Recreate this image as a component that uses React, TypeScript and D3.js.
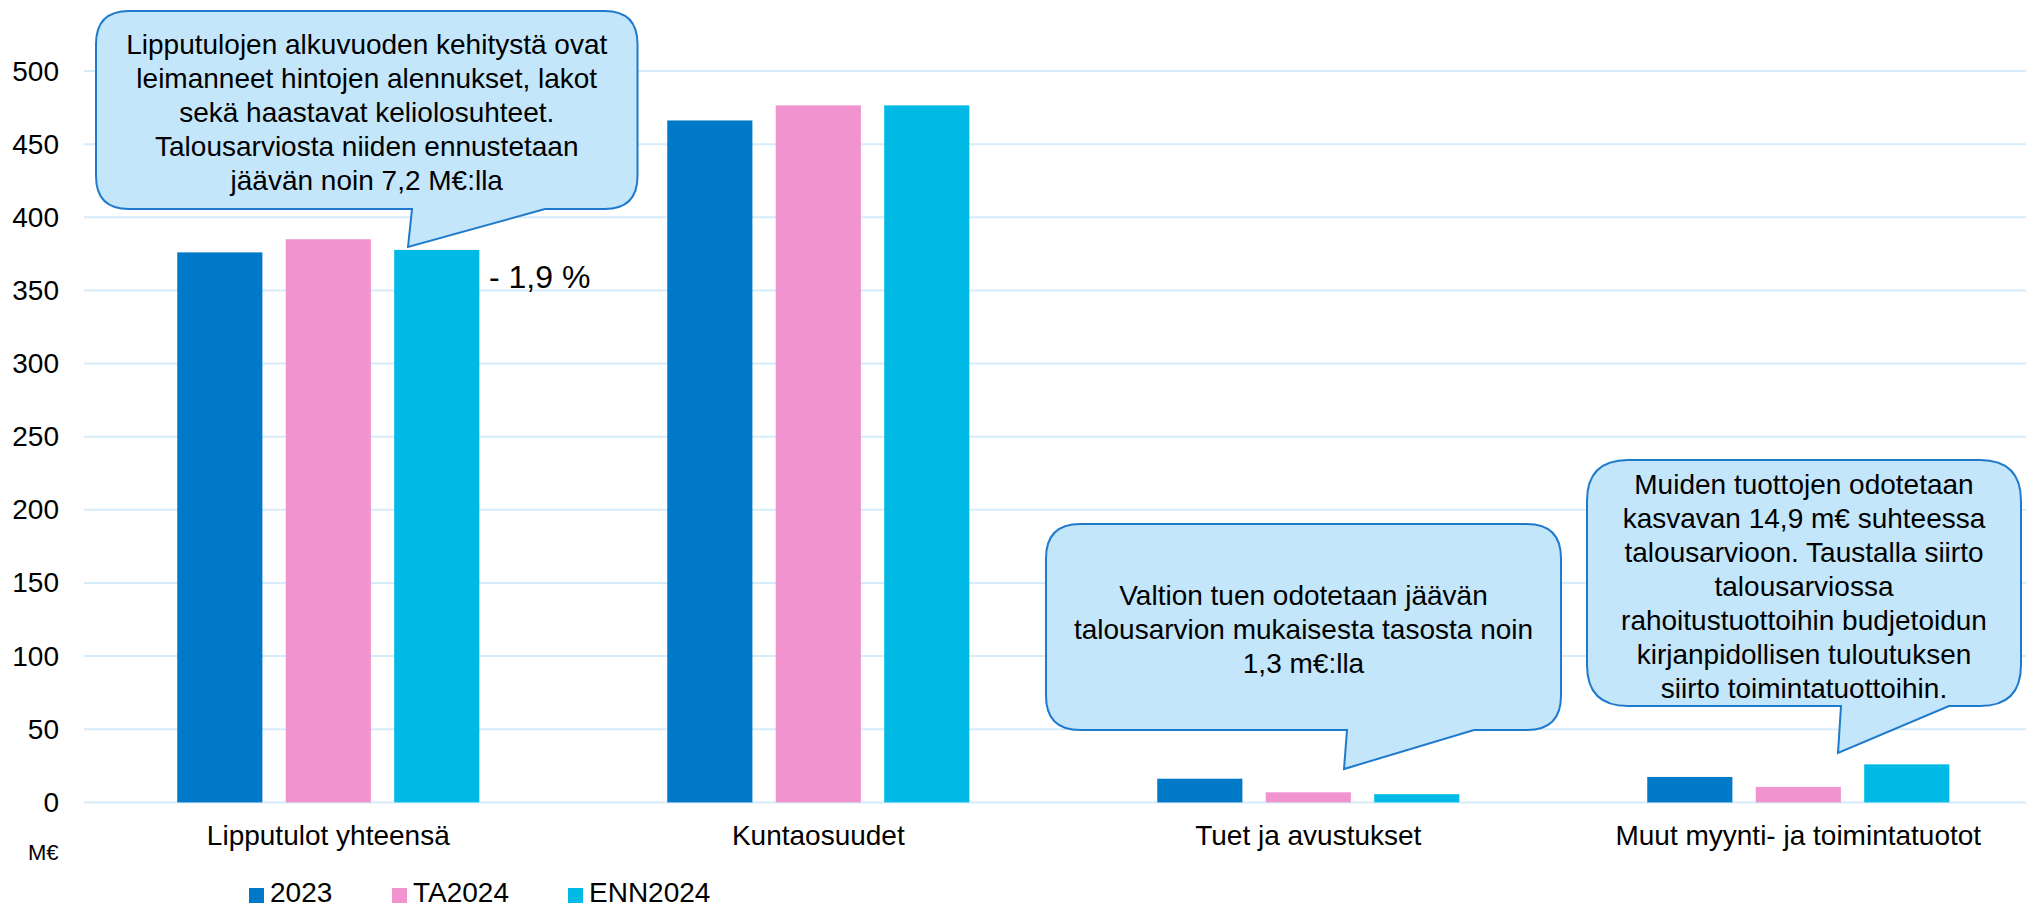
import React from "react";
import * as d3 from "d3";

const categories = ["Lipputulot yhteensä", "Kuntaosuudet", "Tuet ja avustukset", "Muut myynti- ja toimintatuotot"];
const seriesNames = ["2023", "TA2024", "ENN2024"];
const values2023 = [376, 466.2, 16.2, 17.4];
const valuesTA2024 = [385, 476.5, 6.9, 10.6];
const valuesENN2024 = [377.7, 476.5, 5.6, 26.0];
const yTicks = [0, 50, 100, 150, 200, 250, 300, 350, 400, 450, 500];
const colors = ["#0079C8", "#F093CE", "#00B9E5"];
const callout1Lines = [
  "Lipputulojen alkuvuoden kehitystä ovat",
  "leimanneet hintojen alennukset, lakot",
  "sekä haastavat keliolosuhteet.",
  "Talousarviosta niiden ennustetaan",
  "jäävän noin 7,2 M€:lla",
];
const callout2Lines = [
  "Valtion tuen odotetaan jäävän",
  "talousarvion mukaisesta tasosta noin",
  "1,3 m€:lla",
];
const callout3Lines = [
  "Muiden tuottojen odotetaan",
  "kasvavan 14,9 m€ suhteessa",
  "talousarvioon. Taustalla siirto",
  "talousarviossa",
  "rahoitustuottoihin budjetoidun",
  "kirjanpidollisen tuloutuksen",
  "siirto toimintatuottoihin.",
];
const changeLabel = "- 1,9 %";

const W = 2026;
const H = 908;
const FONT = "'Liberation Sans', Arial, sans-serif";

function calloutPath(x0: number, y0: number, x1: number, y1: number, bl: number, br: number, tx: number, ty: number) {
  const r = Math.min(x1 - x0, y1 - y0) * 0.1667;
  const p = d3.path();
  p.moveTo(x0 + r, y0);
  p.lineTo(x1 - r, y0);
  p.quadraticCurveTo(x1, y0, x1, y0 + r);
  p.lineTo(x1, y1 - r);
  p.quadraticCurveTo(x1, y1, x1 - r, y1);
  p.lineTo(br, y1);
  p.lineTo(tx, ty);
  p.lineTo(bl, y1);
  p.lineTo(x0 + r, y1);
  p.quadraticCurveTo(x0, y1, x0, y1 - r);
  p.lineTo(x0, y0 + r);
  p.quadraticCurveTo(x0, y0, x0 + r, y0);
  p.closePath();
  return p.toString();
}

function Callout(props: { box: number[]; ptr: number[]; lines: string[]; firstBaseline: number }) {
  const [x0, y0, x1, y1] = props.box;
  const [bl, br, tx, ty] = props.ptr;
  const cx = (x0 + x1) / 2;
  return (
    <g>
      <path d={calloutPath(x0, y0, x1, y1, bl, br, tx, ty)} fill="#C3E6FB" stroke="#1F7ACC" strokeWidth={2} />
      {props.lines.map((l, i) => (
        <text key={i} x={cx} y={props.firstBaseline + i * 34.1} textAnchor="middle" fontSize={28} fill="#000">
          {l}
        </text>
      ))}
    </g>
  );
}

export default function App() {
  const data = [values2023, valuesTA2024, valuesENN2024];
  const x0 = d3.scaleBand<string>().domain(categories).range([83.3, 2043.3]).padding(0);
  const groupW = 302.1;
  const x1 = d3.scaleBand<string>().domain(seriesNames).range([0, groupW]).paddingInner(0.215).paddingOuter(0);
  const y = d3.scaleLinear().domain([0, 500]).range([802.4, 71]);
  const groupOffset = (x0.bandwidth() - groupW) / 2;

  const legendX = [249, 392, 568];

  return (
    <svg width={W} height={H} style={{ position: "absolute", left: 0, top: 0 }} fontFamily={FONT}>
      <rect x={0} y={0} width={W} height={H} fill="#fff" />
      {yTicks.map((t) => (
        <g key={t}>
          <line x1={84} x2={W} y1={y(t)} y2={y(t)} stroke="#D6ECFB" strokeWidth={2} />
          <text x={59} y={y(t) + 9.5} textAnchor="end" fontSize={28} fill="#000">
            {t}
          </text>
        </g>
      ))}
      {categories.map((c, ci) => (
        <g key={c}>
          {seriesNames.map((s, si) => {
            const v = data[si][ci];
            const bx = (x0(c) as number) + groupOffset + (x1(s) as number);
            return (
              <rect key={s} x={bx} y={y(v)} width={x1.bandwidth()} height={y(0) - y(v)} fill={colors[si]} />
            );
          })}
          <text x={(x0(c) as number) + x0.bandwidth() / 2} y={845} textAnchor="middle" fontSize={28} fill="#000">
            {c}
          </text>
        </g>
      ))}
      <text x={489} y={288} fontSize={32} fill="#000">
        {changeLabel}
      </text>
      <text x={28} y={860} fontSize={22} fill="#000">
        M€
      </text>
      {seriesNames.map((s, i) => (
        <g key={s}>
          <rect x={legendX[i]} y={888} width={15} height={15} fill={colors[i]} />
          <text x={legendX[i] + 21} y={902} fontSize={28} fill="#000">
            {s}
          </text>
        </g>
      ))}
      <Callout box={[96, 11, 637.5, 209]} ptr={[412, 545, 408, 247]} lines={callout1Lines} firstBaseline={53.5} />
      <Callout box={[1046, 524, 1561, 730]} ptr={[1347, 1474, 1344, 769]} lines={callout2Lines} firstBaseline={605} />
      <Callout box={[1587, 460, 2021, 706]} ptr={[1841, 1949, 1838, 753]} lines={callout3Lines} firstBaseline={493.5} />
    </svg>
  );
}
